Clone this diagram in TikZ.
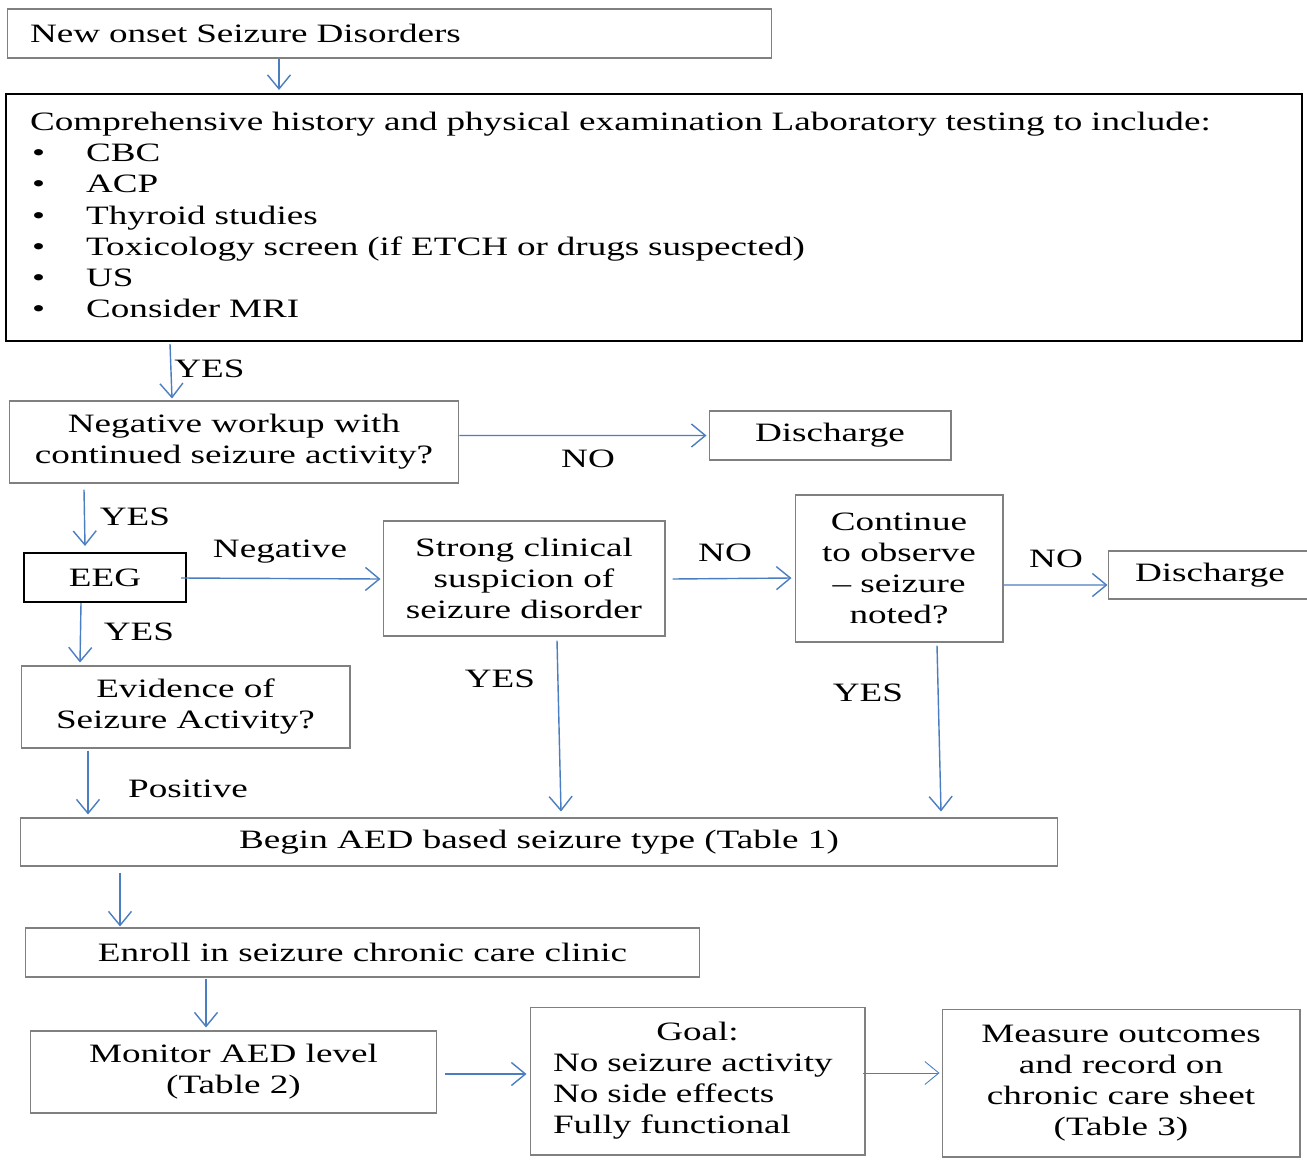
\documentclass[tikz,border=0pt]{standalone}
\usepackage{fontspec}
\setmainfont{Liberation Serif}[FakeStretch=1.4]
\usetikzlibrary{arrows.meta,calc}
\definecolor{arrblue}{RGB}{74,126,193}
\definecolor{boxgray}{RGB}{128,128,128}
\newcommand\mybul{\makebox[1.12cm][l]{\hspace{0.04cm}•}}
\begin{document}
\begin{tikzpicture}[x=0.02cm,y=-0.02cm,
  every node/.style={font=\fontsize{15.1}{17.64}\selectfont, text=black},
  box/.style={draw=boxgray, line width=0.6pt, inner sep=0pt, align=center},
  boldbox/.style={draw=black, line width=1.2pt, inner sep=0pt, align=center},
  arr/.style={draw=arrblue, line width=0.8pt, -{Straight Barb[length=0.28cm,width=0.46cm]}},
  lbl/.style={anchor=base, inner sep=0pt}]
\useasboundingbox[fill=white] (0,0) rectangle (1307,1162);

% boxes
\node[box, minimum width=15.30cm, minimum height=0.98cm, text width=14.38cm, align=left] (n1) at (389.5,33.5) {New onset Seizure Disorders};
\node[boldbox, minimum width=25.92cm, minimum height=4.94cm, text width=24.96cm, align=left, font=\fontsize{15.1}{17.8}\selectfont] (n2) at (654,217.5)
 {Comprehensive history and physical examination Laboratory testing to include:\\
  \mybul CBC\\
  \mybul ACP\\
  \mybul Thyroid studies\\
  \mybul Toxicology screen (if ETCH or drugs suspected)\\
  \mybul US\\
  \mybul Consider MRI\par\vspace*{0.1cm}};
\node[box, minimum width=9.0cm, minimum height=1.64cm] (n3) at (234,442) {Negative workup with\\continued seizure activity?};
\node[box, minimum width=4.84cm, minimum height=0.98cm] (d1) at (830,435.5) {Discharge};
\node[boldbox, minimum width=3.24cm, minimum height=0.98cm] (eeg) at (105,577.5) {EEG};
\node[box, minimum width=5.64cm, minimum height=2.30cm] (strong) at (524,578.5) {Strong clinical\\suspicion of\\seizure disorder};
\node[box, minimum width=4.16cm, minimum height=2.94cm] (cont) at (899,568.5) {Continue\\to observe\\– seizure\\noted?};
\node[box, minimum width=4.08cm, minimum height=0.96cm] (d2) at (1210,575) {Discharge};
\node[box, minimum width=6.58cm, minimum height=1.64cm] (evid) at (185.5,707) {Evidence of\\Seizure Activity?};
\node[box, minimum width=20.76cm, minimum height=0.96cm] (begin) at (539,842) {Begin AED based seizure type (Table 1)};
\node[box, minimum width=13.5cm, minimum height=0.98cm] (enroll) at (362.5,952.5) {Enroll in seizure chronic care clinic};
\node[box, minimum width=8.14cm, minimum height=1.64cm] (monitor) at (233.5,1072) {Monitor AED level\\(Table 2)};
\node[box, minimum width=6.70cm, minimum height=2.96cm, text width=5.78cm, align=left] (goal) at (697.5,1081)
 {\makebox[5.78cm]{Goal:}\\No seizure activity\\No side effects\\Fully functional};
\node[box, minimum width=7.16cm, minimum height=2.96cm] (meas) at (1121,1083) {Measure outcomes\\and record on\\chronic care sheet\\(Table 3)};

% labels
\node[lbl] (l1) at (209.5,377) {YES};
\node[lbl] (l2) at (588,467) {NO};
\node[lbl] (l3) at (135,525) {YES};
\node[lbl] (l4) at (280,557) {Negative};
\node[lbl] (l5) at (139,640) {YES};
\node[lbl] (l6) at (725,561) {NO};
\node[lbl] (l7) at (1056,567) {NO};
\node[lbl] (l8) at (500,687) {YES};
\node[lbl] (l9) at (868,701) {YES};
\node[lbl] (l10) at (188,797) {Positive};

% arrows
\draw[arr] ($(n1.south)+(-110.5,0)$) -- ($(n2.north)+(-375,-3)$);
\draw[arr] ($(n2.south)+(-484,2)$) -- ($(n3.north)+(-62,-2)$);
\draw[arr] ($(n3.east)+(0,-6.5)$) -- ($(d1.west)+(-2,0)$);
\draw[arr] ($(n3.south)+(-150,6)$) -- ($(eeg.north)+(-20,-6)$);
\draw[arr] ($(eeg.east)+(-6,0.5)$) -- ($(strong.west)+(-2,0.5)$);
\draw[arr] ($(eeg.south)+(-24,0)$) -- ($(evid.north)+(-105.5,-3)$);
\draw[arr] ($(strong.east)+(7,0.5)$) -- ($(cont.west)+(-3,9.5)$);
\draw[arr] ($(cont.east)+(0,16.5)$) -- ($(d2.west)+(0,10)$);
\draw[arr] ($(strong.south)+(33,4)$) -- ($(begin.north)+(22,-6)$);
\draw[arr] ($(cont.south)+(38,3)$) -- ($(begin.north)+(402,-6)$);
\draw[arr] ($(evid.south)+(-97.5,2)$) -- ($(begin.north)+(-451,-3)$);
\draw[arr] ($(begin.south)+(-419,6)$) -- ($(enroll.north)+(-242.5,-1)$);
\draw[arr] ($(enroll.south)+(-156.5,1)$) -- ($(monitor.north)+(-27.5,-3)$);
\draw[arr] ($(monitor.east)+(8,2)$) -- ($(goal.west)+(-3,-7)$);
\draw[arr, line width=0.5pt] ($(goal.east)+(-3,-8)$) -- ($(meas.west)+(-2,-10)$);
\end{tikzpicture}
\end{document}
